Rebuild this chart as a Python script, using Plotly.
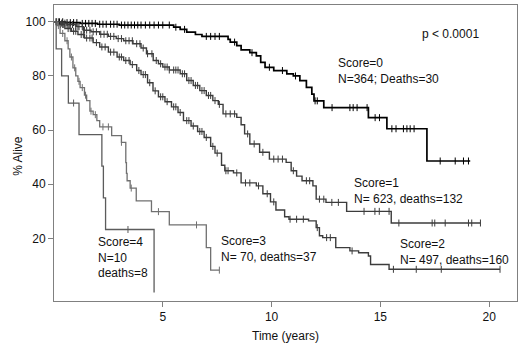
import plotly.graph_objects as go
import bisect

# ---------------- data ----------------
s0_t = [0, 0.5, 1.2, 2.0, 3.0, 5.5, 5.8, 6.1, 6.5, 6.8, 8.0, 8.1, 8.4, 8.6, 9.0, 9.3, 9.5, 9.7,
        10.1, 10.7, 11.0, 11.3, 11.6, 11.85, 11.95, 12.4, 14.45, 15.3, 17.14, 19.13]
s0_s = [100, 99.7, 99.4, 99.1, 98.8, 98.0, 97.2, 96.2, 95.3, 94.6, 93.5, 92.5, 91.2, 89.6, 88.6, 87.4,
        85.0, 83.2, 82.0, 80.8, 80.0, 78.3, 75.8, 73.3, 70.8, 68.3, 64.6, 60.5, 48.6, 48.6]
s0_c = [0.1, 0.25, 0.4, 0.6, 0.75, 0.9, 1.05, 1.3, 1.45, 1.6, 1.75, 1.9, 2.1, 2.25, 2.4, 2.6, 2.75,
        2.9, 3.1, 3.25, 3.4, 3.55, 3.7, 3.85, 4.0, 4.2, 4.4, 4.6, 4.8, 5.0, 5.3, 5.6, 6.0, 7.0, 7.2,
        7.4, 7.6, 8.3, 9.1, 9.9, 10.5, 11.1, 12.0, 12.1, 12.78, 13.6, 13.75, 13.93, 14.39, 14.76,
        14.96, 15.53, 15.72, 16.06, 16.22, 16.37, 16.55, 17.75, 18.44, 18.82, 19.05]

s1_t = [0, 0.3, 0.6, 1.0, 1.35, 1.7, 2.1, 2.5, 2.86, 3.2, 3.63, 4.0, 4.25, 4.56, 4.8, 5.0, 5.3,
        5.8, 6.1, 6.4, 6.7, 7.0, 7.3, 7.55, 7.77, 8.4, 8.6, 8.76, 9.0, 9.45, 9.9, 10.67, 10.9,
        11.15, 11.4, 11.9, 12.05, 12.5, 13.45, 15.5, 19.6]
s1_s = [100, 99.5, 99.0, 98.2, 96.9, 96.3, 95.4, 94.6, 93.8, 93.0, 91.9, 90.3, 88.2, 85.7, 84.5,
        83.3, 82.2, 80.8, 78.3, 76.5, 74.6, 72.8, 70.9, 69.5, 66.0, 64.7, 62.0, 58.6, 54.9, 51.8,
        49.3, 48.1, 45.0, 43.0, 41.3, 39.4, 34.5, 33.3, 30.0, 25.7, 25.7]
s1_c = [0.2, 0.35, 0.5, 0.6, 0.7, 0.85, 1.0, 1.1, 1.15, 1.3, 1.4, 1.5, 1.65, 1.8, 1.95, 2.15,
        2.3, 2.45, 2.6, 2.75, 2.95, 3.1, 3.3, 3.45, 3.6, 3.8, 3.95, 4.1, 4.3, 4.5, 4.7, 4.9, 5.1,
        5.2, 5.3, 5.5, 5.6, 5.7, 5.9, 6.0, 6.2, 6.3, 6.5, 6.6, 6.8, 6.9, 7.1, 7.2, 7.4, 7.6, 7.9,
        8.1, 8.3, 8.9, 9.2, 9.6, 10.1, 10.3, 10.5, 11.0, 11.6, 11.75, 12.2, 12.4, 12.77, 13.07,
        14.25, 14.75, 14.95, 15.4, 15.85, 17.38, 17.5, 17.98, 19.05, 19.2, 19.6]

s2_t = [0, 0.2, 0.5, 0.8, 1.1, 1.4, 1.8, 2.1, 2.5, 2.9, 3.2, 3.5, 3.8, 4.0, 4.3, 4.55, 4.8, 5.1,
        5.4, 5.7, 5.95, 6.3, 6.6, 6.9, 7.2, 7.4, 7.7, 7.85, 8.25, 8.6, 9.3, 9.6, 9.95, 10.2,
        10.6, 10.8, 11.7, 12.05, 12.2, 12.35, 12.95, 13.6, 14.0, 14.45, 14.55, 15.4, 20.5]
s2_s = [100, 99.0, 97.5, 96.5, 95.3, 94.0, 92.3, 90.7, 88.8, 87.0, 85.7, 84.2, 82.0, 80.5, 77.5,
        74.5, 72.3, 70.5, 68.6, 66.5, 63.5, 61.5, 59.5, 57.3, 54.0, 51.5, 47.0, 45.0, 44.2, 40.5,
        39.4, 36.5, 33.5, 30.5, 28.0, 27.1, 26.5, 24.0, 21.0, 20.3, 16.6, 15.4, 14.7, 13.5, 10.4,
        8.6, 8.6]
s2_c = [0.1, 0.3, 0.4, 0.45, 0.65, 0.75, 0.9, 1.0, 1.25, 1.35, 1.5, 1.65, 1.75, 1.95, 2.2, 2.35,
        2.6, 2.75, 3.0, 3.1, 3.3, 3.45, 3.6, 3.9, 4.1, 4.2, 4.4, 4.65, 4.9, 5.0, 5.2, 5.5, 5.6,
        5.8, 6.1, 6.2, 6.4, 6.7, 6.8, 7.0, 7.3, 7.5, 7.9, 8.0, 8.4, 8.8, 9.0, 9.4, 9.8, 10.1,
        10.85, 11.15, 11.46, 12.1, 12.53, 12.7, 13.7, 15.6, 16.65, 17.8, 20.5]

s3_t = [0, 0.15, 0.28, 0.5, 0.65, 0.73, 0.87, 1.0, 1.1, 1.2, 1.4, 1.5, 1.65, 1.8, 1.97, 2.1,
        2.65, 3.1, 3.3, 3.33, 3.36, 3.5, 3.78, 4.48, 5.3, 7.0, 7.2, 7.6]
s3_s = [100, 98.6, 95.7, 93.0, 90.0, 87.0, 83.0, 80.0, 78.0, 75.7, 72.9, 70.9, 67.0, 65.7, 63.5,
        61.2, 58.0, 55.5, 48.0, 44.0, 41.3, 38.6, 33.9, 29.9, 25.0, 16.6, 8.3, 8.3]
s3_c = [0.2, 0.4, 0.6, 0.8, 0.95, 1.15, 1.3, 1.45, 1.7, 1.9, 2.25, 2.5, 3.1, 3.55, 4.8, 6.55, 7.6]

s4_t = [0, 0.1, 0.35, 0.66, 1.15, 2.2, 2.27, 2.37, 4.6]
s4_s = [100, 90, 80, 70, 58.3, 46.7, 35, 23.3, 0]
s4_c = [0.9, 3.4]

groups = [
    ("Score=0", s0_t, s0_s, s0_c, "#000000", 1.7),
    ("Score=1", s1_t, s1_s, s1_c, "#3c3c3c", 1.4),
    ("Score=2", s2_t, s2_s, s2_c, "#3c3c3c", 1.4),
    ("Score=3", s3_t, s3_s, s3_c, "#707070", 1.3),
    ("Score=4", s4_t, s4_s, s4_c, "#5c5c5c", 1.3),
]

labels = [
    ("Score=0<br>N=364; Deaths=30", 12.95, 82),
    ("Score=1<br>N= 623, deaths=132", 13.7, 37.5),
    ("Score=2<br>N= 497, deaths=160", 15.8, 15),
    ("Score=3<br>N= 70, deaths=37", 7.6, 16),
    ("Score=4<br>N=10<br>deaths=8", 1.95, 13),
]


def surv_at(times, surv, t):
    i = bisect.bisect_right(times, t) - 1
    return surv[max(i, 0)]


fig = go.Figure()
for name, t, s, c, col, w in groups:
    fig.add_trace(go.Scatter(x=t, y=s, mode="lines", line=dict(shape="hv", color=col, width=w),
                             name=name, showlegend=False, hoverinfo="skip"))
    fig.add_trace(go.Scatter(x=c, y=[surv_at(t, s, ci) for ci in c], mode="markers",
                             marker=dict(symbol="line-ns", size=5, line=dict(color=col, width=1)),
                             showlegend=False, hoverinfo="skip"))

font = dict(family="Liberation Sans, Arial, sans-serif", size=12, color="#111111")
for txt, x, y in labels:
    fig.add_annotation(x=x, y=y, text=txt, showarrow=False, xanchor="left", yanchor="middle",
                       align="left", font=font)
fig.add_annotation(x=16.8, y=95.5, text="p < 0.0001", showarrow=False, xanchor="left",
                   yanchor="middle", font=font)
fig.add_annotation(xref="paper", yref="paper", x=-0.078, y=0.49, text="% Alive",
                   textangle=-90, showarrow=False, xanchor="center", yanchor="middle", font=font)

axis_common = dict(showline=True, mirror=True, linecolor="#808080", linewidth=1,
                   ticks="outside", ticklen=5, tickcolor="#808080", showgrid=False,
                   zeroline=False, tickfont=font, automargin=False)
fig.update_xaxes(range=[0, 21.28], tickvals=[5, 10, 15, 20], title=dict(text="Time (years)",
                 font=dict(family="Liberation Sans, Arial, sans-serif", size=12, color="#111"),
                 standoff=8), **axis_common)
fig.update_yaxes(range=[-3.1, 106.2], tickvals=[20, 40, 60, 80, 100], **axis_common)
fig.update_layout(width=520, height=353, margin=dict(l=54, r=3, t=5, b=52),
                  plot_bgcolor="white", paper_bgcolor="white")
fig.write_html("out.html", config={"displayModeBar": False},
               post_script="document.body.style.margin='0';")
